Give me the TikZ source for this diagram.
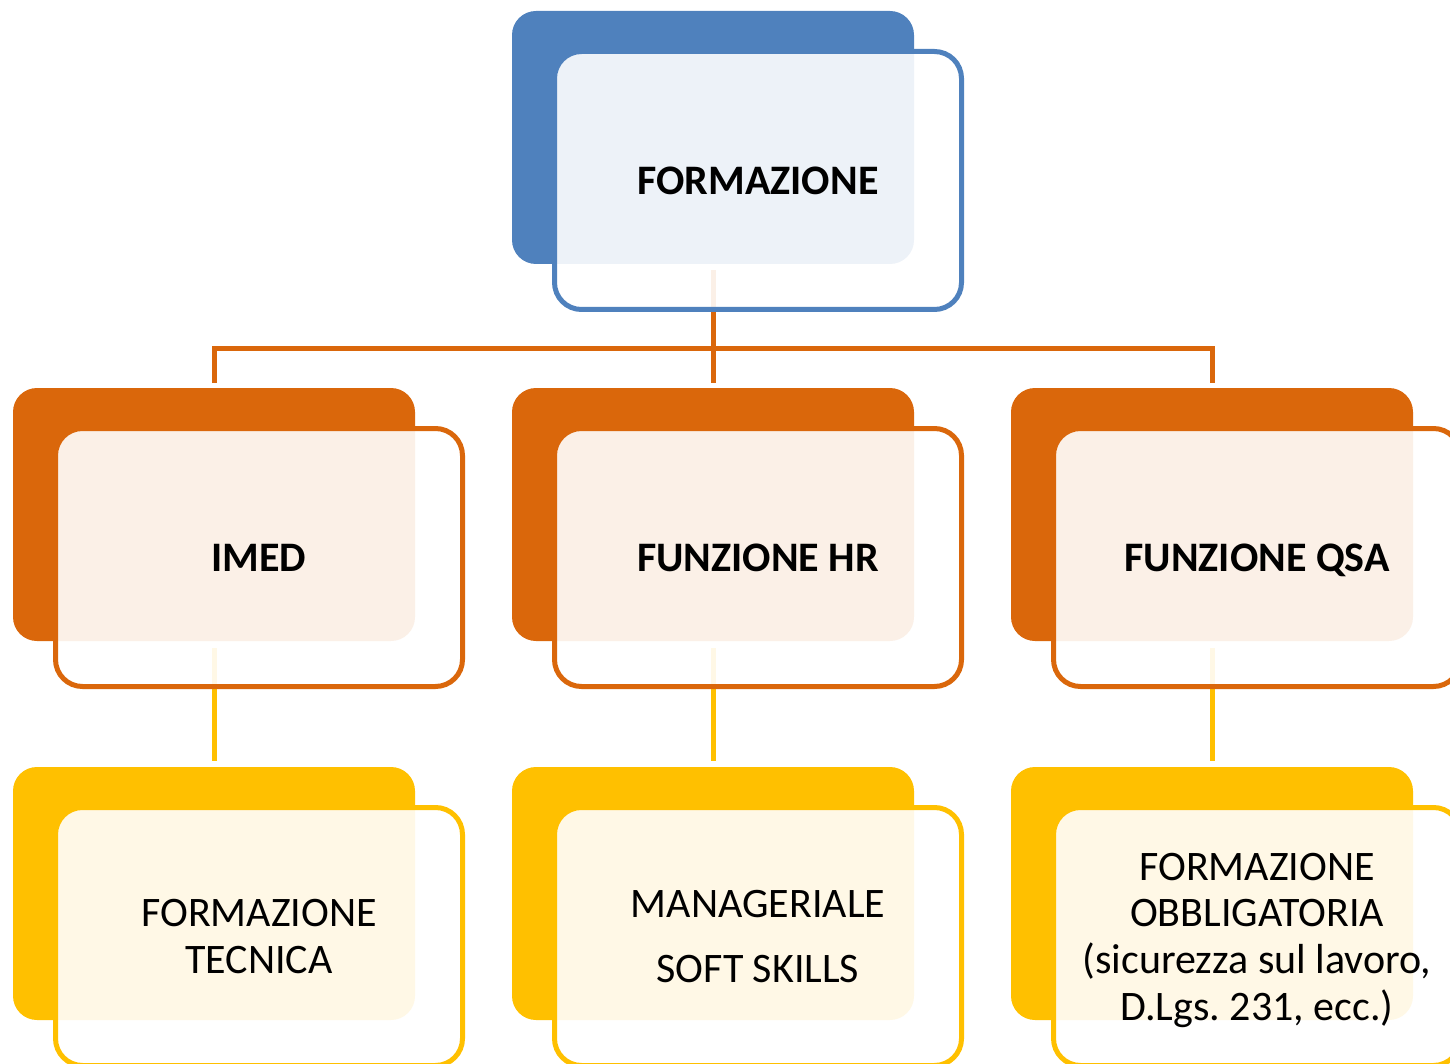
\documentclass[tikz,border=0pt]{standalone}
\usepackage{fontspec}
\setmainfont{Carlito}
\frenchspacing
\definecolor{cblue}{HTML}{4F81BD}
\definecolor{corange}{HTML}{DA670B}
\definecolor{cyellow}{HTML}{FFC000}
\tikzset{
  backbox/.style={rectangle, rounded corners=24pt, minimum width=402pt, minimum height=253pt, inner sep=0pt, outer sep=0pt},
  frontbox/.style={rectangle, rounded corners=27pt, minimum width=407pt, minimum height=258pt, line width=5pt, fill=white, fill opacity=0.9, text opacity=1, text=black, align=center, inner sep=0pt, outer sep=0pt, font=\fontsize{42}{46.7}\selectfont},
  boldtext/.style={font=\bfseries\fontsize{42}{46.7}\selectfont},
  conn/.style={line width=5pt},
}
\begin{document}
\begin{tikzpicture}[x=1pt, y=-1pt]
  \path[use as bounding box] (0,0) rectangle (1450,1064);
  \clip (0,0) rectangle (1450,1064);
  % back boxes
  \node[backbox, fill=cblue] (tb) at (713,137.5) {};
  \node[backbox, fill=corange] (m1b) at (214,514.5) {};
  \node[backbox, fill=corange] (m2b) at (713,514.5) {};
  \node[backbox, fill=corange] (m3b) at (1212,514.5) {};
  \node[backbox, fill=cyellow] (l1b) at (214,893.5) {};
  \node[backbox, fill=cyellow] (l2b) at (713,893.5) {};
  \node[backbox, fill=cyellow] (l3b) at (1212,893.5) {};
  % connectors
  \coordinate (bus) at (0,348);
  \draw[conn, draw=corange, shorten <=6pt, shorten >=5pt] (tb.south) -- (m2b.north);
  \draw[conn, draw=corange, shorten <=5pt, shorten >=5pt] (m1b.north) -- (m1b.north |- bus) -- (m3b.north |- bus) -- (m3b.north);
  \draw[conn, draw=cyellow, shorten <=7pt, shorten >=6pt] (m1b.south) -- (l1b.north);
  \draw[conn, draw=cyellow, shorten <=7pt, shorten >=6pt] (m2b.south) -- (l2b.north);
  \draw[conn, draw=cyellow, shorten <=7pt, shorten >=6pt] (m3b.south) -- (l3b.north);
  % front boxes
  \node[frontbox, draw=cblue, boldtext] (tf) at (758,180.5) {FORMAZIONE};
  \node[frontbox, draw=corange, boldtext] (m1f) at (259,557.5) {IMED};
  \node[frontbox, draw=corange, boldtext] (m2f) at (758,557.5) {FUNZIONE HR};
  \node[frontbox, draw=corange, boldtext, text depth=0pt] (m3f) at (1257,557.5) {FUNZIONE QSA};
  \node[frontbox, draw=cyellow] (l1f) at (259,936.5) {FORMAZIONE\\TECNICA};
  \node[frontbox, draw=cyellow] (l2f) at (758,936.5) {MANAGERIALE\\[18.3pt]SOFT SKILLS};
  \node[frontbox, draw=cyellow, text depth=0pt] (l3f) at (1257,936.5) {FORMAZIONE\\OBBLIGATORIA\\(sicurezza sul lavoro,\\D.Lgs. 231, ecc.)};
\end{tikzpicture}
\end{document}
